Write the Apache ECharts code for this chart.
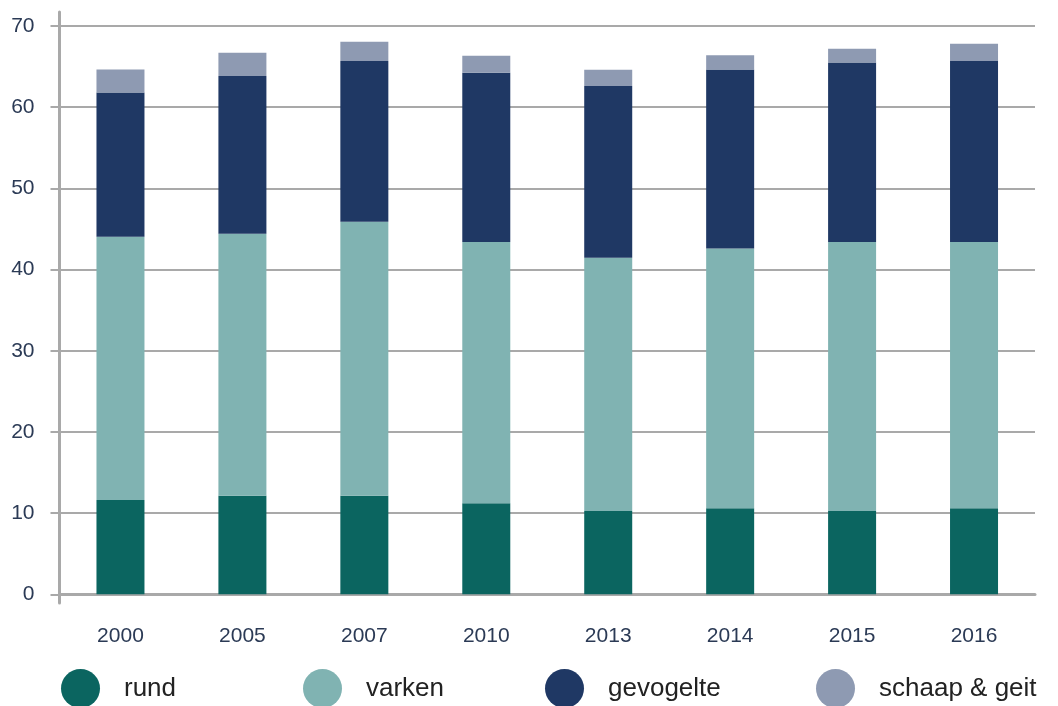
<!DOCTYPE html>
<html>
<head>
<meta charset="utf-8">
<script src="https://cdn.jsdelivr.net/npm/echarts@6/dist/echarts.min.js"></script>
<style>
    html, body { margin: 0; padding: 0; background: #fff; }
    #chart { width: 1058px; height: 706px; }
</style>
</head>
<body>
<div id="chart"></div>
<script>
// data
var years = ['2000', '2005', '2007', '2010', '2013', '2014', '2015', '2016'];
var rund = [11.6, 12.15, 12.15, 11.2, 10.25, 10.6, 10.25, 10.6];
var varken = [32.45, 32.25, 33.75, 32.2, 31.2, 32.0, 33.15, 32.8];
var gevogelte = [17.75, 19.45, 19.8, 20.85, 21.15, 22.05, 22.1, 22.3];
var schaapGeit = [2.85, 2.85, 2.35, 2.1, 2.0, 1.75, 1.7, 2.1];
var yTicks = [0, 10, 20, 30, 40, 50, 60, 70];

(function () {
    var myChart = echarts.init(document.getElementById('chart'));

    var names = ['rund', 'varken', 'gevogelte', 'schaap & geit'];
    var colors = ['#0b6560', '#80b3b2', '#1f3864', '#8e9ab2'];
    var values = [rund, varken, gevogelte, schaapGeit];
    var legendLeft = [61, 303, 545, 816];

    var gridColor = '#a9a9a9';
    var labelColor = '#2b3a55';

    var legends = names.map(function (n, i) {
        return {
            data: [n],
            left: legendLeft[i],
            top: 669,
            padding: 0,
            icon: 'circle',
            itemWidth: 39,
            itemHeight: 39,
            selectedMode: false,
            textStyle: {
                fontFamily: 'Liberation Sans',
                fontSize: 26,
                color: '#222',
                padding: [0, 0, 0, 19]
            }
        };
    });

    var series = names.map(function (n, i) {
        return {
            name: n,
            type: 'bar',
            stack: 'total',
            barWidth: 48,
            itemStyle: { color: colors[i] },
            data: values[i]
        };
    });

    var option = {
        animation: false,
        color: colors,
        legend: legends,
        grid: [
            { left: 59.5, right: 23, top: 26, bottom: 111.7 },
            // only for the long y axis line
            { left: 59.5, right: 23, top: 12, bottom: 103 }
        ],
        xAxis: [
            {
                type: 'category',
                data: years,
                axisTick: { show: false },
                axisLine: { lineStyle: { color: gridColor, width: 3 } },
                axisLabel: {
                    margin: 31,
                    color: labelColor,
                    fontFamily: 'Liberation Sans',
                    fontSize: 21
                }
            },
            {
                type: 'value',
                gridIndex: 1,
                show: false
            }
        ],
        yAxis: [
            {
                type: 'value',
                min: yTicks[0],
                max: yTicks[yTicks.length - 1],
                interval: 10,
                axisLine: { show: false },
                axisTick: {
                    show: true,
                    length: 9,
                    lineStyle: { color: gridColor, width: 2 }
                },
                axisLabel: {
                    margin: 25,
                    color: labelColor,
                    fontFamily: 'Liberation Sans',
                    fontSize: 21
                },
                splitLine: {
                    lineStyle: { color: gridColor, width: 2 }
                }
            },
            {
                type: 'value',
                gridIndex: 1,
                min: 0,
                max: 1,
                axisLine: { show: true, lineStyle: { color: gridColor, width: 3 } },
                axisTick: { show: false },
                axisLabel: { show: false },
                splitLine: { show: false }
            }
        ],
        series: series
    };

    myChart.setOption(option);

    window.addEventListener('resize', function () {
        myChart.resize();
    });
})();
</script>
</body>
</html>
